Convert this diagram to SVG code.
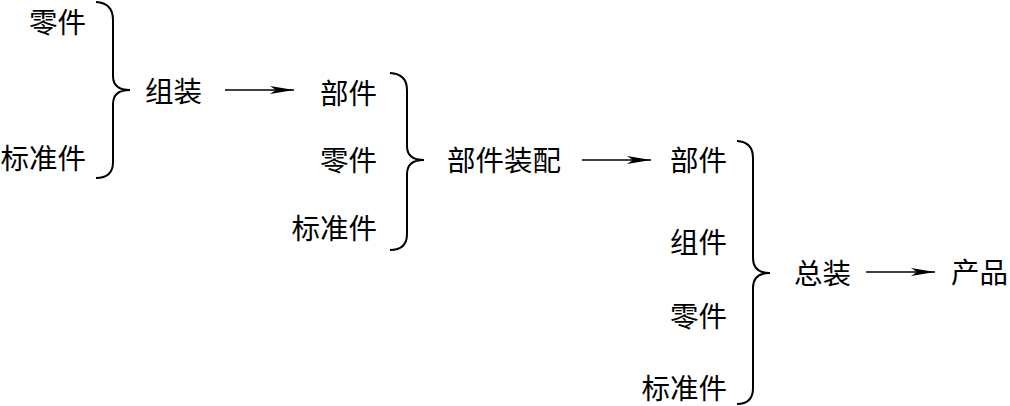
<svg xmlns="http://www.w3.org/2000/svg" width="1010" height="406" viewBox="0 0 1010 406">
<style>
text{font-family:"Noto Sans CJK SC","Noto Sans CJK JP",sans-serif;font-size:28.5px;fill:#000}
.r{text-anchor:end}
.brace{fill:none;stroke:#000;stroke-width:2}
.conn{stroke:#000;stroke-width:1.6;fill:none}
</style>
<defs>
<marker id="ah" markerWidth="26" markerHeight="10" refX="24" refY="5" orient="auto" markerUnits="userSpaceOnUse">
<path d="M0,1 L24,5 L0,9 L6,5 Z" fill="#000"/>
</marker>
</defs>
<rect width="1010" height="406" fill="#fff"/>
<g id="group1">
<text class="r" x="86" y="33">零件</text>
<text class="r" x="86" y="169">标准件</text>
<path class="brace" d="M96,2 Q113,3 113,20 L113,76 Q113,90 130,90 Q113,90 113,104 L113,162 Q113,178 96,178"/>
<text x="145" y="102">组装</text>
</g>
<g id="group2">
<text class="r" x="377" y="104">部件</text>
<text class="r" x="377" y="171">零件</text>
<text class="r" x="377" y="239">标准件</text>
<path class="brace" d="M390,73 Q407,74 407,90 L407,146 Q407,160 424,160 Q407,160 407,174 L407,234 Q407,250 390,250"/>
<text x="447" y="171">部件装配</text>
</g>
<g id="group3">
<text class="r" x="727" y="171">部件</text>
<text class="r" x="727" y="253">组件</text>
<text class="r" x="727" y="327">零件</text>
<text class="r" x="727" y="399">标准件</text>
<path class="brace" d="M737,141 Q753,142 753,158 L753,258 Q753,273 770,273 Q753,273 753,288 L753,388 Q753,404 737,404"/>
<text x="794" y="284">总装</text>
</g>
<g id="product">
<text x="951" y="283">产品</text>
</g>
<g id="connectors">
<line class="conn" x1="225" y1="90" x2="294" y2="90" marker-end="url(#ah)"/>
<line class="conn" x1="582" y1="160" x2="651" y2="160" marker-end="url(#ah)"/>
<line class="conn" x1="866" y1="272" x2="935" y2="272" marker-end="url(#ah)"/>
</g>
</svg>
